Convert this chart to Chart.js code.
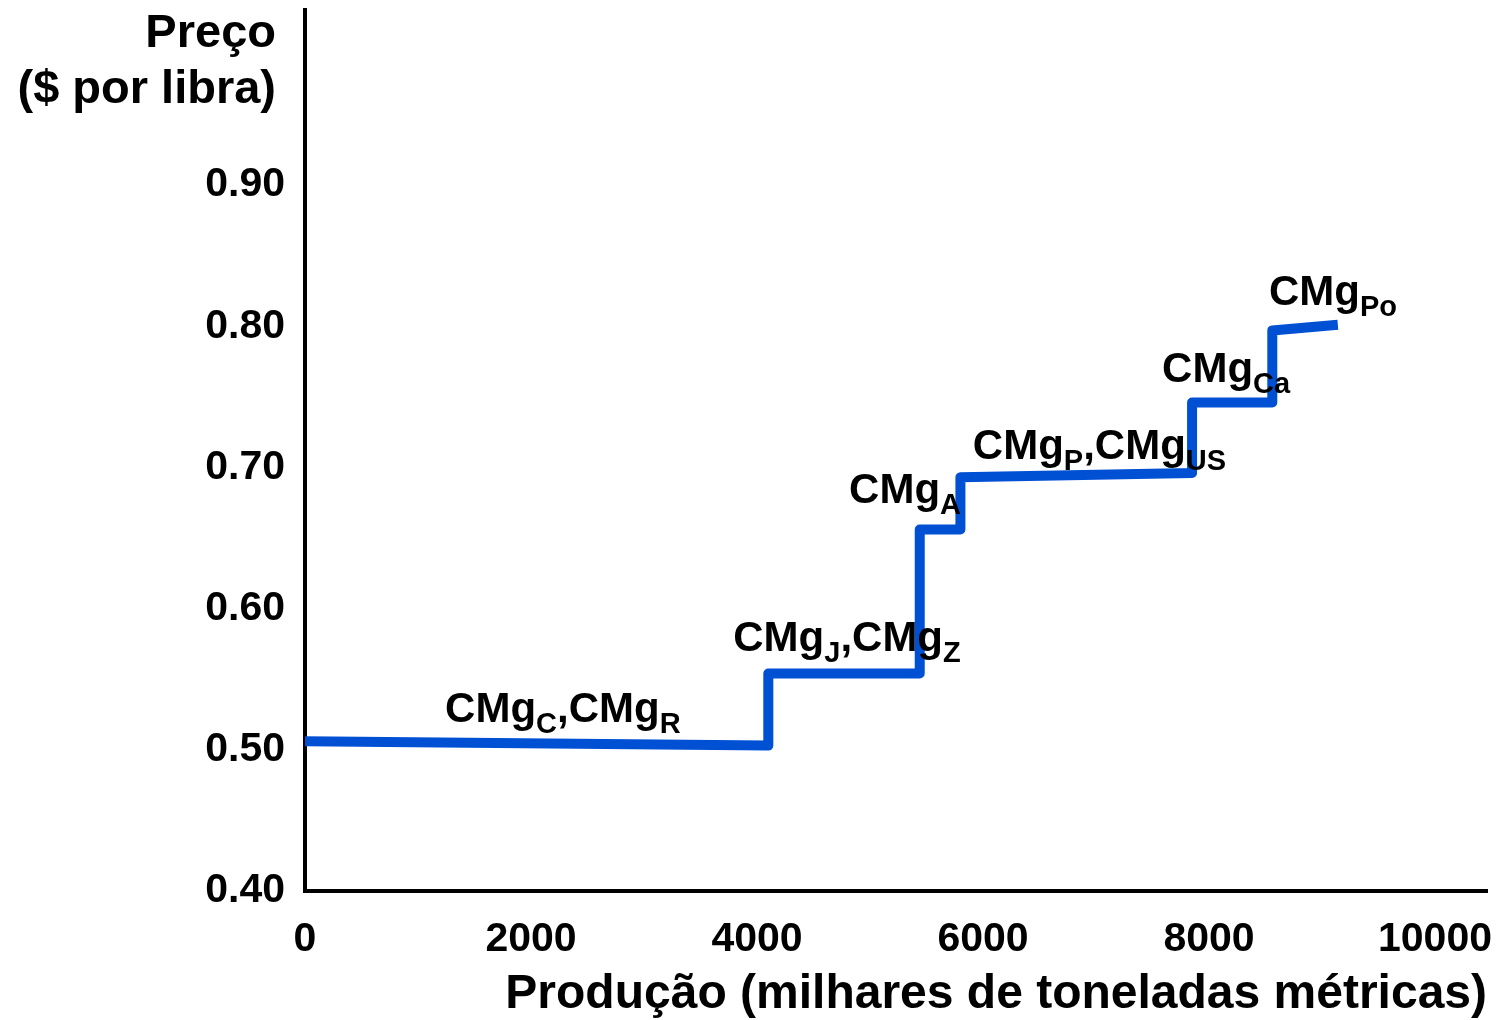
<!DOCTYPE html>
<html lang="pt">
<head>
    <meta charset="UTF-8">
    <title>Custo marginal - cobre</title>
    <script src="https://cdn.jsdelivr.net/npm/chart.js"></script>
    <style>
        body { margin: 0; background: #fff; }
        canvas { display: block; }
    </style>
</head>
<body>
    <canvas id="supplyChart" width="1503" height="1020"></canvas>

    <script>
        // step curve (thousand metric tons, $ per pound)
        const production = [0, 4100, 4100, 5440, 5440, 5800, 5800, 7850, 7850, 8560, 8560, 9140];
        const price = [0.506, 0.503, 0.554, 0.554, 0.656, 0.656, 0.693, 0.696, 0.746, 0.746, 0.797, 0.801];

        const xTicks = [0, 2000, 4000, 6000, 8000, 10000];
        const yTicks = [0.40, 0.50, 0.60, 0.70, 0.80, 0.90];

        // step labels: [text, subscript] pieces, anchored in data units
        const stepLabels = [
            [['CMg', 0], ['C', 1], [',CMg', 0], ['R', 1]],
            [['CMg', 0], ['J', 1], [',CMg', 0], ['Z', 1]],
            [['CMg', 0], ['A', 1]],
            [['CMg', 0], ['P', 1], [',CMg', 0], ['US', 1]],
            [['CMg', 0], ['Ca', 1]],
            [['CMg', 0], ['Po', 1]]
        ];
        const labelX = [1240, 3790, 4815, 5910, 7585, 8530];
        const labelY = [0.520, 0.570, 0.675, 0.706, 0.7605, 0.815];

        const fontFamily = '"Liberation Sans", Arial, sans-serif';

        const annotations = {
            id: 'annotations',
            afterDatasetsDraw(chart) {
                const ctx = chart.ctx;
                const xs = chart.scales.x, ys = chart.scales.y;
                ctx.save();
                ctx.fillStyle = '#000';
                ctx.textBaseline = 'alphabetic';
                ctx.textAlign = 'left';
                stepLabels.forEach((parts, i) => {
                    let x = xs.getPixelForValue(labelX[i]);
                    const y = ys.getPixelForValue(labelY[i]);
                    parts.forEach(([txt, sub]) => {
                        ctx.font = sub ? `bold 29px ${fontFamily}` : `bold 42px ${fontFamily}`;
                        ctx.fillText(txt, x, sub ? y + 11 : y);
                        x += ctx.measureText(txt).width;
                    });
                });
                // y axis title, horizontal at top left
                ctx.font = `bold 47px ${fontFamily}`;
                ctx.textAlign = 'right';
                ctx.textBaseline = 'middle';
                ctx.fillText('Preço', 276, 34);
                ctx.fillText('($ por libra)', 276, 90);
                ctx.restore();
            }
        };

        const ctx = document.getElementById('supplyChart').getContext('2d');
        new Chart(ctx, {
            type: 'line',
            data: {
                datasets: [{
                    data: production.map((p, i) => ({ x: p, y: price[i] })),
                    borderColor: '#0050d4',
                    borderWidth: 10,
                    borderJoinStyle: 'round',
                    borderCapStyle: 'butt',
                    pointRadius: 0,
                    tension: 0,
                    fill: false,
                    clip: { left: 0, right: 10, top: 10, bottom: 10 }
                }]
            },
            plugins: [annotations],
            options: {
                responsive: false,
                animation: false,
                layout: { padding: { left: 0, top: 10, right: 16, bottom: 1 } },
                plugins: {
                    legend: { display: false },
                    tooltip: { enabled: false }
                },
                scales: {
                    x: {
                        type: 'linear',
                        min: 0,
                        max: 10460,
                        afterBuildTicks: s => { s.ticks = xTicks.map(v => ({ value: v })); },
                        afterFit: s => { s.height = 128; s.paddingLeft = 0; s.paddingRight = 0; },
                        grid: { display: false, drawTicks: false },
                        border: { display: true, color: '#000', width: 4 },
                        ticks: {
                            color: '#000',
                            padding: 24,
                            maxRotation: 0,
                            autoSkip: false,
                            font: { family: fontFamily, size: 41, weight: 'bold' },
                            callback: v => String(v)
                        },
                        title: {
                            display: true,
                            text: 'Produção (milhares de toneladas métricas)',
                            align: 'end',
                            color: '#000',
                            padding: { top: 0, bottom: 0 },
                            font: { family: fontFamily, size: 48, weight: 'bold', lineHeight: 1 }
                        }
                    },
                    y: {
                        type: 'linear',
                        min: 0.40,
                        max: 1.024,
                        afterBuildTicks: s => { s.ticks = yTicks.map(v => ({ value: v })); },
                        afterFit: s => { s.width = 305; s.paddingTop = 0; s.paddingBottom = 0; },
                        grid: { display: false, drawTicks: false },
                        border: { display: true, color: '#000', width: 4 },
                        ticks: {
                            color: '#000',
                            padding: 20,
                            autoSkip: false,
                            font: { family: fontFamily, size: 41, weight: 'bold' },
                            callback: v => v.toFixed(2)
                        }
                    }
                }
            }
        });
    </script>
</body>
</html>
